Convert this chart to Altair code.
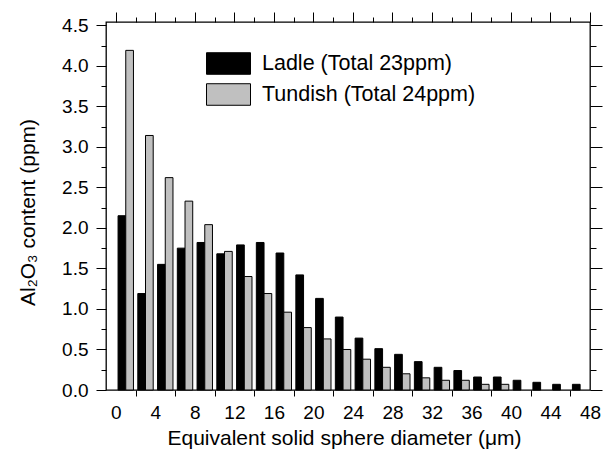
import altair as alt
import pandas as pd

# ---- data ----
diameters = [1, 3, 5, 7, 9, 11, 13, 15, 17, 19, 21, 23,
             25, 27, 29, 31, 33, 35, 37, 39, 41, 43, 45, 47]
ladle = [2.15, 1.19, 1.55, 1.75, 1.82, 1.68, 1.79, 1.82, 1.69, 1.42, 1.13, 0.90,
         0.64, 0.51, 0.44, 0.35, 0.28, 0.24, 0.16, 0.16, 0.12, 0.095, 0.07, 0.07]
tundish = [4.19, 3.14, 2.62, 2.33, 2.04, 1.71, 1.40, 1.19, 0.96, 0.77, 0.63, 0.50,
           0.38, 0.28, 0.20, 0.15, 0.12, 0.12, 0.07, 0.07, 0.0, 0.0, 0.0, 0.0]
series_names = ["Ladle (Total 23ppm)", "Tundish (Total 24ppm)"]
series_colors = ["#000000", "#c0c0c0"]
bar_w = 0.78

rows = []
for d, lv, tv in zip(diameters, ladle, tundish):
    if lv > 0:
        rows.append({"series": series_names[0], "x0": d - bar_w, "x1": d, "value": lv, "base": 0.0})
    if tv > 0:
        rows.append({"series": series_names[1], "x0": d, "x1": d + bar_w, "value": tv, "base": 0.0})
df = pd.DataFrame(rows)

FONT = "Liberation Sans"
TICK_FS = 19
TITLE_FS = 21
LEG_FS = 21.5

xscale = alt.Scale(domain=[-1, 48], nice=False, zero=False)
yscale = alt.Scale(domain=[0, 4.54], nice=False, zero=True)


def ax(orient, values, tick_size, labels=False, **kw):
    return alt.Axis(orient=orient, values=values, tickSize=tick_size, ticks=tick_size > 0,
                    labels=labels, domain=False, grid=False, tickColor="black",
                    tickWidth=1, labelFont=FONT, labelFontSize=TICK_FS, labelColor="black",
                    labelFlush=False, labelOverlap=False, **kw)


x_major = list(range(0, 49, 4))
x_minor = list(range(2, 47, 4))
y_major = [i * 0.5 for i in range(10)]
y_minor = [0.25 + i * 0.5 for i in range(9)]

base = alt.Chart(df)

bars = base.mark_bar(stroke="black", strokeWidth=1).encode(
    x=alt.X("x0:Q", scale=xscale,
            axis=ax("bottom", x_major, 0, labels=True, labelPadding=13,
                    title="Equivalent solid sphere diameter (\u03bcm)",
                    titleFont=FONT, titleFontSize=TITLE_FS, titleFontWeight="normal",
                    titleColor="black", titleBaseline="alphabetic", titleY=54, titleX=238)),
    x2="x1:Q",
    y=alt.Y("value:Q", scale=yscale,
            axis=ax("left", y_major, 10, labels=True, labelPadding=8, format=".1f",
                    title="Al\u2082O\u2083 content (ppm)",
                    titleFont=FONT, titleFontSize=TITLE_FS, titleFontWeight="normal",
                    titleColor="black", titleBaseline="alphabetic", titleAngle=270,
                    titleX=-72, titleY=190, titleAlign="center")),
    y2="base:Q",
    fill=alt.Fill("series:N", scale=alt.Scale(domain=series_names, range=series_colors),
                  legend=alt.Legend(orient="none", legendX=111, legendY=30, title=None,
                                    symbolType="M-2,-0.98H2V0.98H-2Z", symbolSize=484,
                                    symbolStrokeColor="black", symbolStrokeWidth=1,
                                    symbolOpacity=1, labelFont=FONT, labelFontSize=LEG_FS,
                                    labelColor="black", labelLimit=500, labelOffset=22,
                                    rowPadding=4, padding=0)),
)

def ghost(xaxis, yaxis):
    return base.mark_point(opacity=0).encode(
        x=alt.X("x0:Q", scale=xscale, axis=xaxis),
        y=alt.Y("value:Q", scale=yscale, axis=yaxis),
    )

g1 = ghost(ax("bottom", x_minor, 6, title=None), ax("left", y_minor, 5, title=None))
g2 = ghost(ax("top", x_major, 10, title=None), ax("right", y_major, 12, title=None))
g3 = ghost(ax("top", x_minor, 5, title=None), ax("right", y_minor, 6, title=None))

chart = alt.layer(bars, g1, g2, g3).resolve_scale(
    x="shared", y="shared"
).resolve_axis(
    x="independent", y="independent"
).properties(
    width=484, height=368,
    autosize=alt.AutoSizeParams(type="none"),
    padding={"left": 98, "top": 14, "right": 15, "bottom": 64},
    background="white",
).configure_view(stroke="black", strokeWidth=1.3)

chart.save("out.html", embed_options={"renderer": "svg", "actions": False})
